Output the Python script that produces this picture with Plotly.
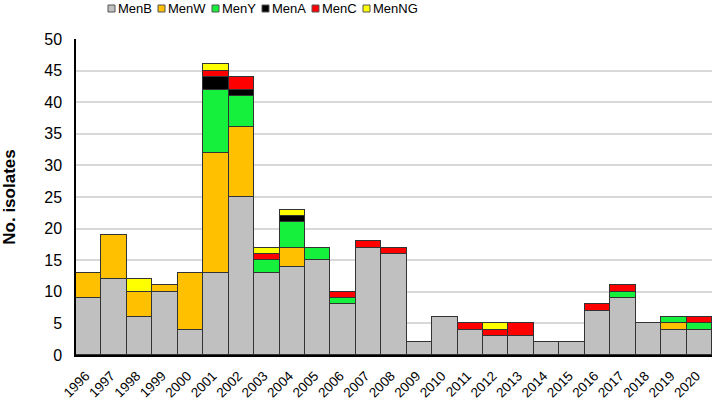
import plotly.graph_objects as go

years = [str(y) for y in range(1996, 2021)]

men_b = [9, 12, 6, 10, 4, 13, 25, 13, 14, 15, 8, 17, 16, 2, 6, 4, 3, 3, 2, 2, 7, 9, 5, 4, 4]
men_w = [4, 7, 4, 1, 9, 19, 11, 0, 3, 0, 0, 0, 0, 0, 0, 0, 0, 0, 0, 0, 0, 0, 0, 1, 0]
men_y = [0, 0, 0, 0, 0, 10, 5, 2, 4, 2, 1, 0, 0, 0, 0, 0, 0, 0, 0, 0, 0, 1, 0, 1, 1]
men_a = [0, 0, 0, 0, 0, 2, 1, 0, 1, 0, 0, 0, 0, 0, 0, 0, 0, 0, 0, 0, 0, 0, 0, 0, 0]
men_c = [0, 0, 0, 0, 0, 1, 2, 1, 0, 0, 1, 1, 1, 0, 0, 1, 1, 2, 0, 0, 1, 1, 0, 0, 1]
men_ng = [0, 0, 2, 0, 0, 1, 0, 1, 1, 0, 0, 0, 0, 0, 0, 0, 1, 0, 0, 0, 0, 0, 0, 0, 0]

series = [
    ("MenB", men_b, "#c0c0c0"),
    ("MenW", men_w, "#ffc000"),
    ("MenY", men_y, "#14f03c"),
    ("MenA", men_a, "#000000"),
    ("MenC", men_c, "#ff0000"),
    ("MenNG", men_ng, "#ffff00"),
]

W, H = 714, 402
L, R, T, B = 76, 2, 39, 47
font = "Liberation Sans, Arial, sans-serif"

fig = go.Figure()
for name, vals, col in series:
    fig.add_trace(go.Bar(
        x=years, y=vals, name=name, showlegend=False,
        marker=dict(color=col, line=dict(color="#333333", width=1.2)),
    ))

# legend drawn by hand so the swatches sit tight against their labels
legend_x = [108, 158, 212, 262, 312, 363]
sw = 7
pw = W - L - R
ph = H - T - B
for (name, vals, col), px in zip(series, legend_x):
    fig.add_shape(type="rect", xref="paper", yref="paper",
                  x0=(px - L) / pw, x1=(px + sw - L) / pw,
                  y0=1 + (T - 12) / ph, y1=1 + (T - 5) / ph,
                  fillcolor=col, line=dict(color="#555555", width=1))
    fig.add_annotation(text=name, xref="paper", yref="paper",
                       x=(px + sw + 1 - L) / pw, y=1 + (T - 8.5) / ph,
                       xanchor="left", yanchor="middle", showarrow=False,
                       font=dict(size=13, family=font, color="#000000"))

fig.update_layout(
    barmode="stack",
    bargap=0,
    width=W, height=H,
    margin=dict(l=L, r=R, t=T, b=B),
    plot_bgcolor="white",
    paper_bgcolor="white",
    font=dict(family=font, color="#000000"),
    showlegend=False,
    xaxis=dict(tickangle=-45, tickfont=dict(size=13.5), showline=True, automargin=False,
               linecolor="#000000", linewidth=1.5, ticks="", showgrid=False,
               ticklabelstandoff=6, ticklabelshift=-3,
               range=[-0.5, 24.5]),
    yaxis=dict(range=[0, 50], dtick=5, tickfont=dict(size=16), showgrid=True,
               gridcolor="#d9d9d9", gridwidth=1.5, zeroline=False, showline=True,
               automargin=False,
               linecolor="#000000", linewidth=1.5, ticks="", ticklabelstandoff=9,
               title=dict(text="<b>No. isolates</b>", font=dict(size=17), standoff=31)),
)

fig.write_html("out.html", config={"displayModeBar": False},
               post_script="document.body.style.margin='0';")
